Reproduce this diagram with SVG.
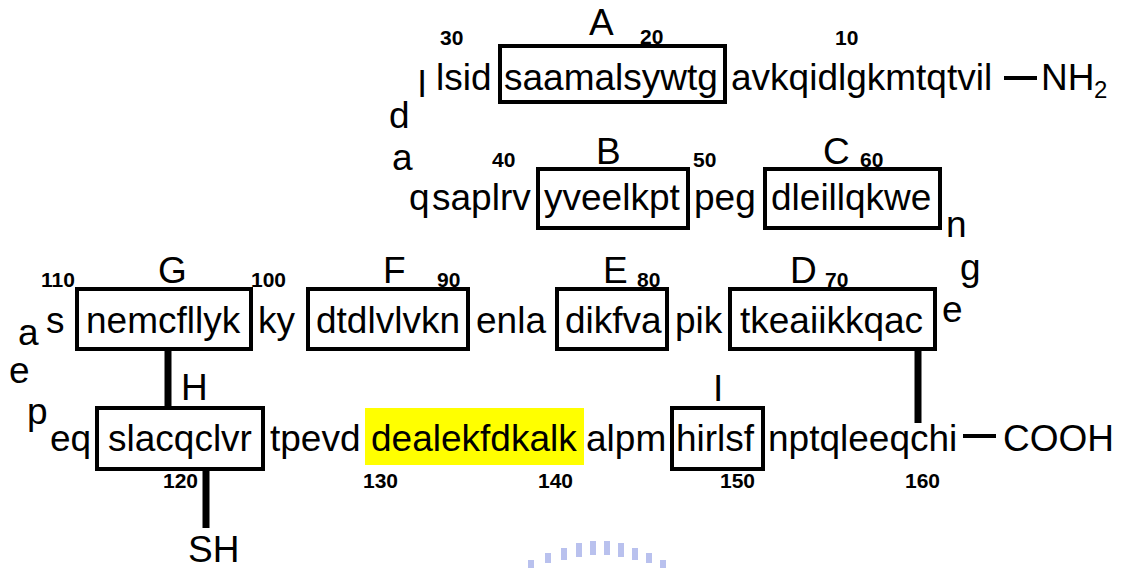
<svg xmlns="http://www.w3.org/2000/svg" width="1121" height="570" viewBox="0 0 1121 570">
<style>
text{font-family:"Liberation Sans",Arial,sans-serif;fill:#000}
.s{font-size:37px}
.n{font-size:21px;font-weight:bold}
.box{fill:none;stroke:#000;stroke-width:4}
.c{stroke:#000;stroke-width:7;fill:none}
.d{stroke:#000;stroke-width:4;fill:none}
</style>
<rect width="1121" height="570" fill="#fff"/>
<g id="connectors">
<line class="c" x1="168" y1="349" x2="168" y2="408"/>
<line class="c" x1="206" y1="469" x2="206" y2="528"/>
<line class="c" x1="918" y1="349" x2="918" y2="423"/>
<line class="d" x1="1004" y1="78" x2="1037" y2="78"/>
<line class="d" x1="963" y1="436" x2="996" y2="436"/>
</g>
<g id="row1">
<text class="s" x="389" y="128">d</text>
<text class="s" x="418" y="97">l</text>
<text class="s" x="436" y="90">lsid</text>
<text class="n" x="440" y="45">30</text>
<g id="A"><rect class="box" x="500" y="46" width="225" height="56"/><text class="s" x="504" y="90">saamalsywtg</text><text class="s" x="589" y="35">A</text></g>
<text class="n" x="640" y="44">20</text>
<text class="s" x="731" y="90">avkqidlgkmtqtvil</text>
<text class="n" x="835" y="45">10</text>
<g id="NH2"><text class="s" x="1041" y="90">NH</text><text x="1094" y="98" font-size="24">2</text></g>
</g>
<g id="row2">
<text class="s" x="392" y="170">a</text>
<text class="s" x="409" y="210">q</text>
<text class="s" x="432" y="210">saplrv</text>
<text class="n" x="492" y="167">40</text>
<g id="B"><rect class="box" x="538" y="169" width="150" height="59"/><text class="s" x="544" y="210">yveelkpt</text><text class="s" x="596" y="164">B</text></g>
<text class="n" x="693" y="167">50</text>
<text class="s" x="694" y="210">peg</text>
<g id="C"><rect class="box" x="765" y="169" width="175" height="59"/><text class="s" x="771" y="210">dleillqkwe</text><text class="s" x="823" y="164">C</text></g>
<text class="n" x="860" y="167">60</text>
<text class="s" x="946" y="237">n</text>
</g>
<g id="row3">
<text class="s" x="18" y="345">a</text>
<text class="s" x="46" y="333">s</text>
<text class="n" x="41" y="287">110</text>
<g id="G"><rect class="box" x="77" y="289" width="174" height="60"/><text class="s" x="86" y="333">nemcfllyk</text><text class="s" x="158" y="283">G</text></g>
<text class="n" x="251" y="287">100</text>
<text class="s" x="258" y="333">ky</text>
<g id="F"><rect class="box" x="308" y="289" width="160" height="60"/><text class="s" x="316" y="333">dtdlvlvkn</text><text class="s" x="383" y="283">F</text></g>
<text class="n" x="437" y="287">90</text>
<text class="s" x="476" y="333">enla</text>
<g id="E"><rect class="box" x="557" y="289" width="110" height="60"/><text class="s" x="565" y="333">dikfva</text><text class="s" x="603" y="283">E</text></g>
<text class="n" x="637" y="287">80</text>
<text class="s" x="675" y="333">pik</text>
<g id="D"><rect class="box" x="730" y="289" width="205" height="60"/><text class="s" x="740" y="333">tkeaiikkqac</text><text class="s" x="790" y="283">D</text></g>
<text class="n" x="825" y="287">70</text>
<text class="s" x="942" y="322">e</text>
<text class="s" x="960" y="280">g</text>
</g>
<g id="row4">
<text class="s" x="9" y="383">e</text>
<text class="s" x="27" y="424">p</text>
<text class="s" x="50" y="451">eq</text>
<g id="H"><rect class="box" x="97" y="408" width="166" height="61"/><text class="s" x="108" y="451">slacqclvr</text><text class="s" x="181" y="400">H</text></g>
<text class="n" x="163" y="488">120</text>
<text class="s" x="270" y="451">tpevd</text>
<g id="hl"><rect x="365" y="408" width="219" height="57" fill="#ffff00"/><text class="s" x="371" y="451">dealekfdkalk</text></g>
<text class="n" x="363" y="488">130</text>
<text class="n" x="538" y="488">140</text>
<text class="s" x="586" y="451">alpm</text>
<g id="I"><rect class="box" x="672" y="408" width="91" height="61"/><text class="s" x="676" y="451">hirlsf</text><text class="s" x="713" y="401">I</text></g>
<text class="n" x="720" y="488">150</text>
<text class="s" x="768" y="451">nptqleeqchi</text>
<text class="n" x="905" y="488">160</text>
<g id="COOH"><text class="s" x="1003" y="451">COOH</text></g>
<g id="SH"><text class="s" x="188" y="562">SH</text></g>
</g>
<g id="watermark" fill="#a8b2ea" opacity="0.8">
<rect x="528" y="560" width="6" height="8"/>
<rect x="545" y="553" width="6" height="10"/>
<rect x="561" y="548" width="6" height="12"/>
<rect x="576" y="543" width="6" height="14"/>
<rect x="590" y="541" width="6" height="14"/>
<rect x="604" y="541" width="6" height="14"/>
<rect x="618" y="543" width="6" height="14"/>
<rect x="632" y="548" width="6" height="12"/>
<rect x="646" y="553" width="6" height="10"/>
<rect x="660" y="560" width="6" height="8"/>
</g>
</svg>
